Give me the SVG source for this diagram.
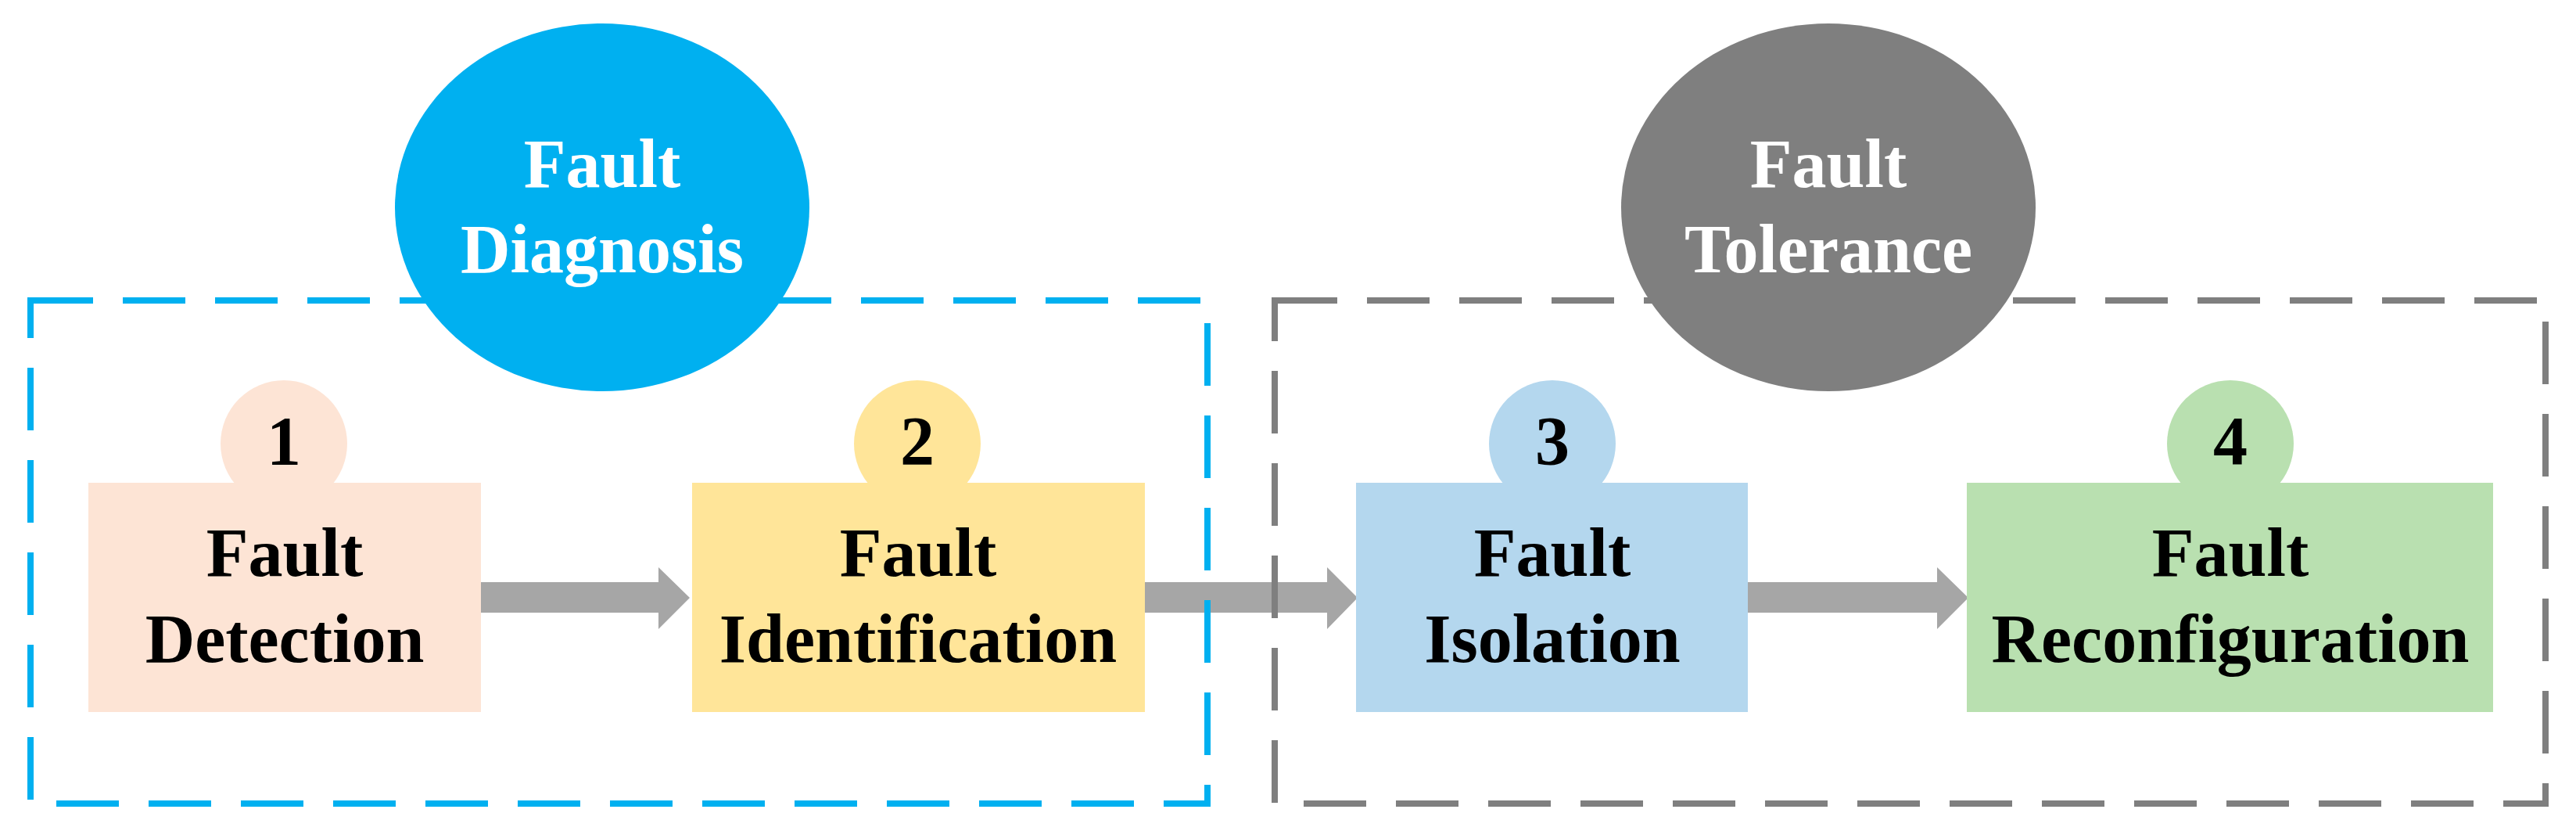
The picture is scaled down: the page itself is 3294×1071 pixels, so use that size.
<svg xmlns="http://www.w3.org/2000/svg" width="3294" height="1071" viewBox="0 0 3294 1071">
<style>
.t{font-family:"Liberation Serif","Times New Roman",serif;font-weight:bold;font-size:88px;text-anchor:middle}
.w{fill:#fff}
.k{fill:#000}
.arr{fill:#A6A6A6}
.dash{fill:none;stroke-width:8;stroke-dasharray:80 38}
</style>
<rect width="3294" height="1071" fill="#fff"/>
<g id="connectors">
<polygon class="arr" points="615,744 842,744 842,725 882,764 842,804 842,783 615,783"/>
<polygon class="arr" points="1464,744 1697,744 1697,725 1736,764 1697,804 1697,783 1464,783"/>
<polygon class="arr" points="2235,744 2477,744 2477,725 2517,764 2477,804 2477,783 2235,783"/>
</g>
<g id="group-diagnosis">
<rect class="dash" x="39" y="384" width="1505" height="643" stroke="#00B0F0"/>
<ellipse cx="770" cy="265" rx="265" ry="235" fill="#00B0F0"/>
<text class="t w" x="770" y="239">Fault</text>
<text class="t w" x="770" y="348">Diagnosis</text>
</g>
<g id="group-tolerance">
<rect class="dash" x="1630" y="384" width="1625" height="643" stroke="#7F7F7F"/>
<ellipse cx="2338" cy="265" rx="265" ry="235" fill="#7F7F7F"/>
<text class="t w" x="2338" y="239">Fault</text>
<text class="t w" x="2338" y="348">Tolerance</text>
</g>
<g id="node1">
<circle cx="363" cy="567" r="81" fill="#FDE4D5"/>
<rect x="113" y="617" width="502" height="293" fill="#FDE4D5"/>
<text class="t k" x="363" y="593">1</text>
<text class="t k" x="364" y="736">Fault</text>
<text class="t k" x="364" y="846">Detection</text>
</g>
<g id="node2">
<circle cx="1173" cy="567" r="81" fill="#FFE599"/>
<rect x="885" y="617" width="579" height="293" fill="#FFE599"/>
<text class="t k" x="1173" y="593">2</text>
<text class="t k" x="1174" y="736">Fault</text>
<text class="t k" x="1174" y="846">Identification</text>
</g>
<g id="node3">
<circle cx="1985" cy="567" r="81" fill="#B4D7EE"/>
<rect x="1734" y="617" width="501" height="293" fill="#B4D7EE"/>
<text class="t k" x="1985" y="593">3</text>
<text class="t k" x="1985" y="736">Fault</text>
<text class="t k" x="1985" y="846">Isolation</text>
</g>
<g id="node4">
<circle cx="2852" cy="567" r="81" fill="#B9E0B0"/>
<rect x="2515" y="617" width="673" height="293" fill="#B9E0B0"/>
<text class="t k" x="2852" y="593">4</text>
<text class="t k" x="2852" y="736">Fault</text>
<text class="t k" x="2852" y="846">Reconfiguration</text>
</g>
</svg>
